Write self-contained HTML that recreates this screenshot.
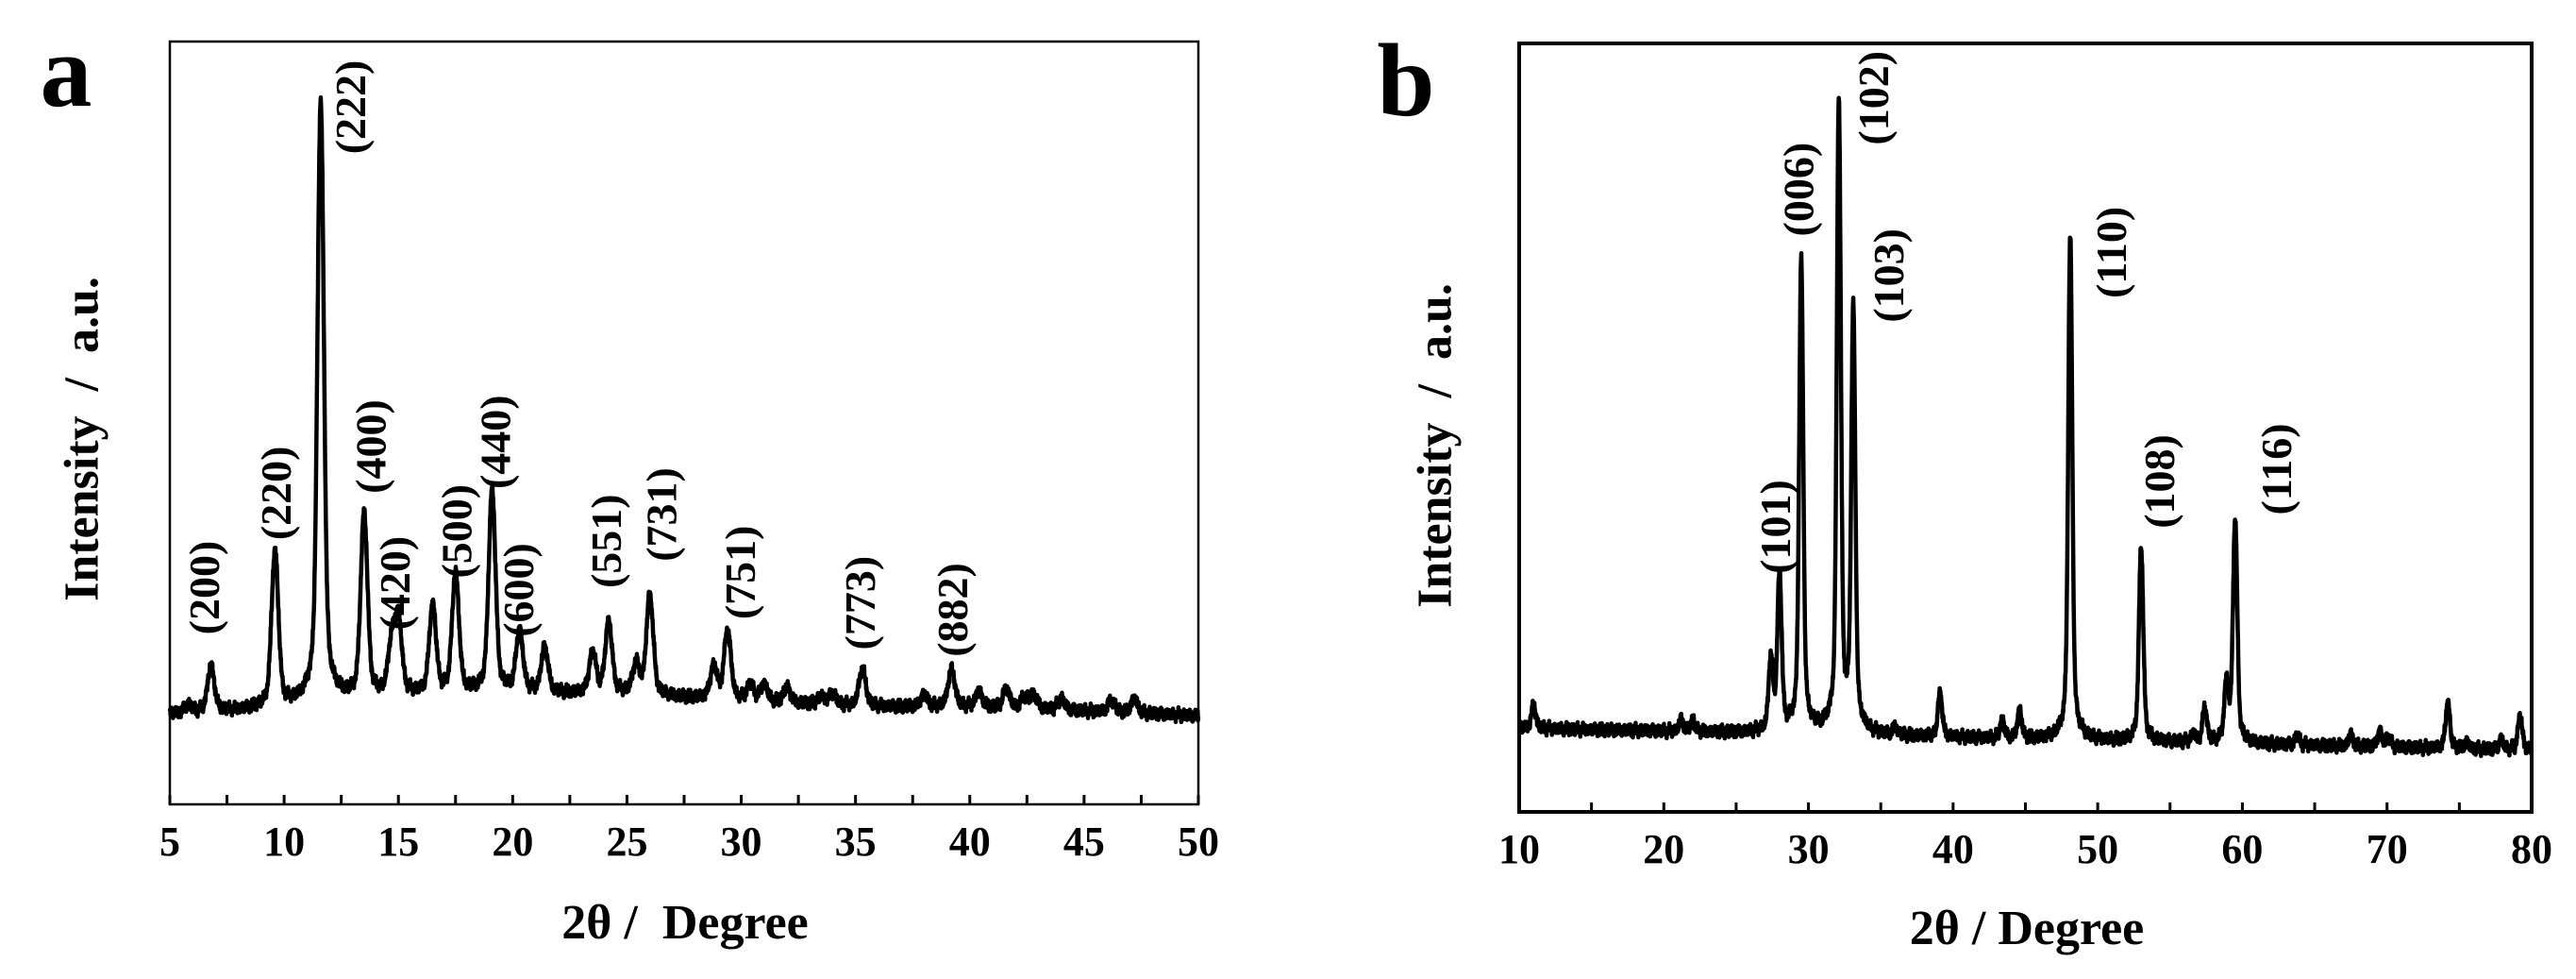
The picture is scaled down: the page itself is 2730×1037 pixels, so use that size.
<!DOCTYPE html>
<html><head><meta charset="utf-8"><style>
html,body{margin:0;padding:0;background:#fff;}
svg{display:block;font-family:"Liberation Serif",serif;font-weight:bold;}
</style></head><body>
<svg id="fig" width="2730" height="1037" viewBox="0 0 2730 1037"></svg>
<script>
// ---- Panel a data ----
const aPeakPos = [5.8,6.8,9.6,11.6,13.5,14.7,15.0,16.5,17.5,19.1,20.3,21.4,23.5,24.2,25.4,26.0,28.8,29.4,30.4,31.0,32.0,33.5,34.0,35.3,38.0,39.2,40.4,41.6,42.4,42.8,44.0,46.2,47.2];
const aPeakAmp = [1,5.9,20.4,79,24,6.5,9.6,11.5,15.6,26.5,7.9,5.9,5.2,9.3,3.8,13.1,4.1,9,2,2.2,2,1,1.5,4.9,1.5,4.9,2,2.5,1.5,1.8,1.5,1.5,1.8];
const aBaseX = [5,10,15,20,25,30,35,40,45,50];
const aBaseY = [11.8,12.5,14,14.5,14.3,13.5,12.8,12.7,12.2,11.6];
const aLabels = ["(200)","(220)","(222)","(400)","(420)","(500)","(440)","(600)","(551)","(731)","(751)","(773)","(882)"];
const aLabelX = [6.5,9.65,12.9,13.8,14.85,17.55,19.25,20.25,24.1,26.5,29.95,35.2,39.25];
const aLabelY = [28.4,40.8,91.4,46.9,29,35.8,47.5,28.1,34.5,38,30.4,26.4,25.5];
const aTicks = [5,10,15,20,25,30,35,40,45,50];
// ---- Panel b data ----
const bPeakPos = [11.0,21.2,22.0,27.4,28.0,29.5,32.1,33.1,36.0,39.1,43.4,44.6,48.1,53.0,56.6,57.4,58.9,59.5,63.8,67.5,69.5,70.1,74.2,75.5,77.9,79.2];
const bPeakAmp = [3,1.5,1.5,9.2,20,61.4,82,54.5,1,5.7,2.3,3.6,65.7,25.3,1,4.5,7.3,29,1.2,1.5,2,1.3,6,0.8,1.3,4.5];
const bBaseX = [10,80];
const bBaseY = [10.9,8.0];
const bLabels = ["(101)","(006)","(102)","(103)","(110)","(108)","(116)"];
const bLabelX = [27.7,29.3,34.5,35.55,50.95,54.25,62.35];
const bLabelY = [37.1,81.0,92.9,69.8,72.8,43,44.6];
const bTicks = [10,20,30,40,50,60,70,80];

const NS="http://www.w3.org/2000/svg";
const svg=document.getElementById('fig');
function mk(tag,attrs,parent){const e=document.createElementNS(NS,tag);for(const k in attrs)e.setAttribute(k,attrs[k]);(parent||svg).appendChild(e);return e;}
function interp(xs,ys,x){if(x<=xs[0])return ys[0];for(let i=1;i<xs.length;i++){if(x<=xs[i]){const t=(x-xs[i-1])/(xs[i]-xs[i-1]);return ys[i-1]+t*(ys[i]-ys[i-1]);}}return ys[ys.length-1];}

function panel(cfg){
  const g=mk('g',{});
  
  
  const sx=v=>cfg.L+(v-cfg.x0)/(cfg.x1-cfg.x0)*(cfg.R-cfg.L);
  const sy=v=>cfg.B-v/100*(cfg.B-cfg.T);
  let d='';
  const n=3000;
  for(let i=0;i<=n;i++){
    const x=cfg.x0+(cfg.x1-cfg.x0)*i/n;
    let y=interp(cfg.bx,cfg.by,x);
    for(let k=0;k<cfg.pos.length;k++){
      const dx=x-cfg.pos[k];
      const s=cfg.amp[k]>30?0.13:0.14;
      y+=cfg.amp[k]*(0.82*Math.exp(-dx*dx/(2*s*s))+0.18/(1+dx*dx/0.12));
    }
    y+=0.45*Math.sin(i*2.7)+0.3*Math.sin(i*1.13+1)+0.25*Math.sin(i*0.37);
    d+=(i?'L':'M')+sx(x).toFixed(1)+' '+sy(y).toFixed(1);
  }
  const p=mk('path',{d:d,fill:'none',stroke:'#000','stroke-width':4.5,'stroke-linejoin':'round'},g);
  
  
  const f=mk('rect',{x:cfg.L,y:cfg.T,width:cfg.R-cfg.L,height:cfg.B-cfg.T,fill:'none',stroke:'#000','stroke-width':cfg.fw},g);
  
  
  for(let v=cfg.x0;v<=cfg.x1+1e-6;v+=cfg.minor){
    const t=mk('line',{x1:sx(v),x2:sx(v),y1:cfg.B,y2:cfg.B-10,stroke:'#000','stroke-width':3},g);
    
    
  }
  cfg.ticks.forEach(v=>{
    const t=mk('text',{x:sx(v),y:cfg.B+54,'text-anchor':'middle','font-size':44},g);
    t.textContent=v;
    
    
  });
  cfg.labels.forEach((s,i)=>{
    const cx=sx(cfg.lx[i]),cy=sy(cfg.ly[i]);
    const t=mk('text',{x:0,y:0,'text-anchor':'middle','dominant-baseline':'central','font-size':46,transform:`translate(${cx},${cy}) rotate(-90)`},g);
    t.textContent=s;
    
    
  });
}
panel({name:'panel-a',L:180,R:1270,T:44,B:852,x0:5,x1:50,minor:2.5,fw:2.5,pos:aPeakPos,amp:aPeakAmp,bx:aBaseX,by:aBaseY,ticks:aTicks,labels:aLabels,lx:aLabelX,ly:aLabelY});
panel({name:'panel-b',L:1610,R:2683,T:46,B:860,x0:10,x1:80,minor:5,fw:4,pos:bPeakPos,amp:bPeakAmp,bx:bBaseX,by:bBaseY,ticks:bTicks,labels:bLabels,lx:bLabelX,ly:bLabelY});

function txt(s,attrs,name){const t=mk('text',attrs);t.textContent=s;return t;}
txt('a',{x:70,y:112,'text-anchor':'middle','font-size':110},'panel-a-letter');
txt('b',{x:1490,y:122,'text-anchor':'middle','font-size':110},'panel-b-letter');
txt('2θ /  Degree',{x:726,y:994,'text-anchor':'middle','font-size':52,style:'white-space:pre'},'x-axis-title-a');
txt('2θ / Degree',{x:2148,y:1000,'text-anchor':'middle','font-size':52},'x-axis-title-b');
txt('Intensity  /  a.u.',{x:0,y:0,'text-anchor':'middle','dominant-baseline':'central','font-size':52,transform:'translate(87,465) rotate(-90)',style:'white-space:pre'},'y-axis-title-a');
txt('Intensity  /  a.u.',{x:0,y:0,'text-anchor':'middle','dominant-baseline':'central','font-size':52,transform:'translate(1521,472) rotate(-90)',style:'white-space:pre'},'y-axis-title-b');
</script>
</body></html>
